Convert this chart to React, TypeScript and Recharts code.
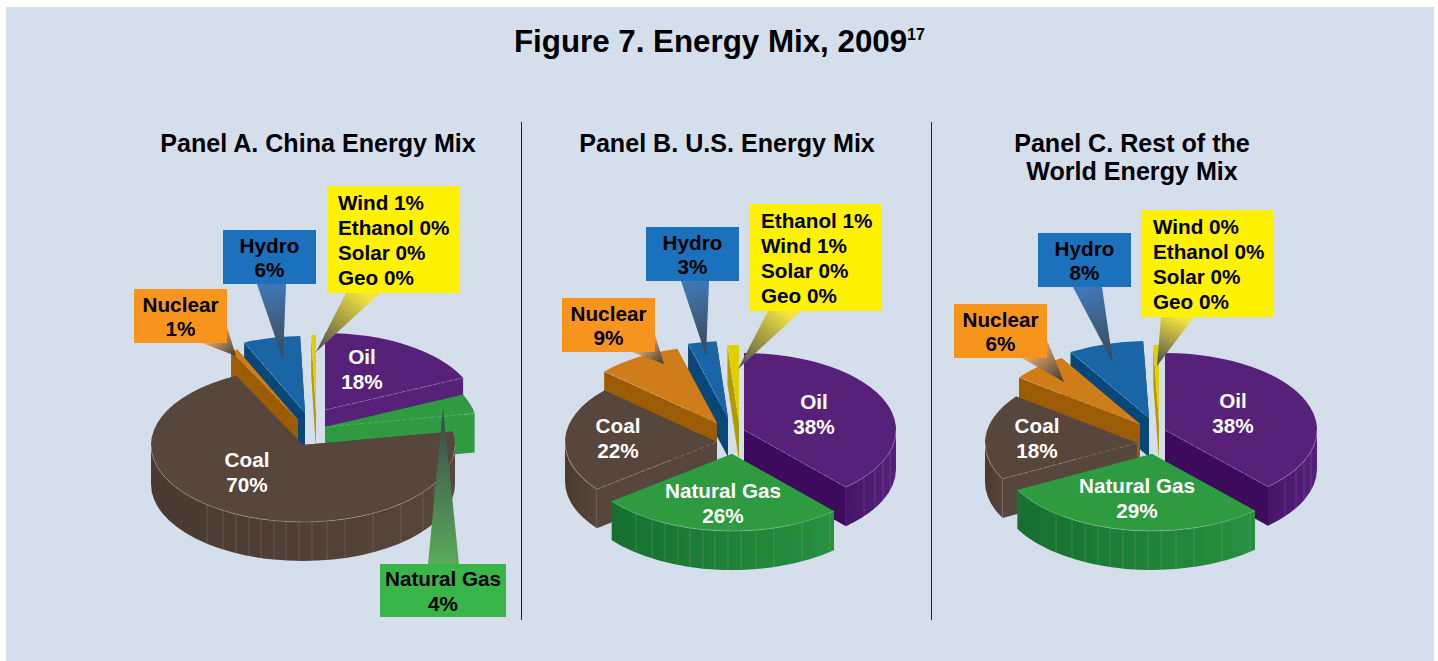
import React from 'react';
import { Pie, PieChart } from 'recharts';

const FONT = '"Liberation Sans", Arial, sans-serif';

// slices clockwise from 12 o'clock
const categories = ['Oil', 'Natural Gas', 'Coal', 'Nuclear', 'Hydro', 'Other'];

// shares as drawn; small ones are estimated from the slice width, the printed labels are rounded
const chinaShares = [18, 4, 70, 0.7, 6, 0.5];
const usShares = [38, 26, 22, 9, 3, 1.2];
const restShares = [38, 29, 18, 6, 8, 0.6];

const chinaPercents = ['18%', '4%', '70%', '1%', '6%'];
const usPercents = ['38%', '26%', '22%', '9%', '3%'];
const restPercents = ['38%', '29%', '18%', '6%', '8%'];

const chinaOther = ['Wind 1%', 'Ethanol 0%', 'Solar 0%', 'Geo 0%'];
const usOther = ['Ethanol 1%', 'Wind 1%', 'Solar 0%', 'Geo 0%'];
const restOther = ['Wind 0%', 'Ethanol 0%', 'Solar 0%', 'Geo 0%'];

const panelTitles = [['Panel A. China Energy Mix'], ['Panel B. U.S. Energy Mix'], ['Panel C. Rest of the', 'World Energy Mix']];

// ---- styles and layout, nothing below this line is data ----

const RX = 152;
const RY = 77;
const DEPTH = 39;
const LINE = 24.8;

// wall seams, px left/right of the slice tip
const seams = [-96, -80, -67, -54, -42, -29, -17, -4, 9, 24, 42, 70, 98, 120, 131, 139, 146];

interface Look {
  top: string;
  face: string;
  wallL: string;
  wallR: string;
  box: string;
  taper: string;
  tip: string;
}

const looks: Record<string, Look> = {
  Oil: { top: '#57217a', face: '#3e0a5c', wallL: '#47156a', wallR: '#55207a', box: '#57217a', taper: '#57217a', tip: '#333' },
  'Natural Gas': { top: '#2e9b40', face: '#2a9039', wallL: '#16702f', wallR: '#279040', box: '#39b54a', taper: '#5aaa5a', tip: '#38464a' },
  Coal: { top: '#56463c', face: '#56463c', wallL: '#493a31', wallR: '#56463c', box: '#56463c', taper: '#56463c', tip: '#333' },
  Nuclear: { top: '#cf7d18', face: '#9c5c05', wallL: '#9c5c05', wallR: '#9c5c05', box: '#f7941e', taper: '#e8a860', tip: '#3a3a3c' },
  Hydro: { top: '#1a65a5', face: '#074878', wallL: '#074878', wallR: '#074878', box: '#1c71bc', taper: '#3f78b8', tip: '#3d4650' },
  Other: { top: '#e0ce00', face: '#b09c00', wallL: '#b09c00', wallR: '#b09c00', box: '#fff200', taper: '#f2e440', tip: '#4a4a4a' },
};

interface Callout {
  box: [number, number, number, number];
  taper: [number, number][];
  tip: [number, number];
  textX?: number;
}

interface PanelLayout {
  cx: number;
  cy: number;
  apex: Record<string, [number, number]>;
  paint: string[];
  labels: Record<string, [number, number]>;
  callouts: Record<string, Callout>;
}

const layouts: PanelLayout[] = [
  {
    cx: 310,
    cy: 425,
    apex: { Oil: [325, 410], 'Natural Gas': [325, 427], Coal: [303, 445], Nuclear: [298, 420], Hydro: [305, 413], Other: [316, 412] },
    paint: ['Oil', 'Other', 'Hydro', 'Nuclear', 'Natural Gas', 'Coal'],
    labels: { Oil: [362, 357], Coal: [247, 460] },
    callouts: {
      Other: { box: [327, 186, 460, 293], taper: [[346, 293], [380, 293]], tip: [316, 352], textX: 338 },
      Hydro: { box: [223, 230, 316, 284], taper: [[257, 284], [286, 284]], tip: [283, 360] },
      Nuclear: { box: [134, 289, 227, 343], taper: [[202, 343], [227, 327]], tip: [236, 356] },
      'Natural Gas': { box: [380, 564, 506, 617], taper: [[428, 564], [459, 564]], tip: [443, 408] },
    },
  },
  {
    cx: 727,
    cy: 435,
    apex: { Oil: [744, 430], 'Natural Gas': [732, 454], Coal: [717, 442], Nuclear: [717, 423], Hydro: [728, 418], Other: [739, 422] },
    paint: ['Other', 'Hydro', 'Nuclear', 'Coal', 'Oil', 'Natural Gas'],
    labels: { Oil: [814, 402], 'Natural Gas': [723, 491], Coal: [618, 426] },
    callouts: {
      Other: { box: [749, 204, 882, 311], taper: [[768, 311], [801, 311]], tip: [738, 369], textX: 761 },
      Hydro: { box: [646, 227, 739, 281], taper: [[681, 281], [709, 281]], tip: [706, 356] },
      Nuclear: { box: [562, 298, 655, 352], taper: [[632, 352], [655, 335]], tip: [664, 364] },
    },
  },
  {
    cx: 1150,
    cy: 435,
    apex: { Oil: [1165, 430], 'Natural Gas': [1152, 454], Coal: [1137, 443], Nuclear: [1140, 424], Hydro: [1149, 418], Other: [1159, 422] },
    paint: ['Other', 'Hydro', 'Nuclear', 'Coal', 'Oil', 'Natural Gas'],
    labels: { Oil: [1233, 401], 'Natural Gas': [1137, 486], Coal: [1037, 426] },
    callouts: {
      Other: { box: [1141, 210, 1274, 317], taper: [[1161, 317], [1194, 317]], tip: [1157, 366], textX: 1153 },
      Hydro: { box: [1038, 233, 1131, 287], taper: [[1073, 287], [1102, 287]], tip: [1113, 363] },
      Nuclear: { box: [954, 304, 1047, 358], taper: [[1022, 358], [1047, 340]], tip: [1064, 382] },
    },
  },
];

const titleCenters = [318, 727, 1132];

function rim(ax: number, ay: number, t: number): [number, number] {
  const r = (t * Math.PI) / 180;
  return [ax + RX * Math.sin(r), ay - RY * Math.cos(r)];
}

// t runs clockwise from 12 o'clock, recharts angles run anticlockwise from 3 o'clock
function sliceAngles(props: any): [number, number] {
  const a = 90 - props.startAngle;
  const b = 90 - props.endAngle;
  return [Math.min(a, b), Math.max(a, b)];
}

function Slice({ sector, layout, id }: { sector: any; layout: PanelLayout; id: string }) {
  const name = sector.payload?.name ?? sector.name;
  const look = looks[name];
  const [t0, t1] = sliceAngles(sector);
  const [ax, ay] = layout.apex[name];
  const p0 = rim(ax, ay, t0);
  const p1 = rim(ax, ay, t1);
  const large = t1 - t0 > 180 ? 1 : 0;
  const top = `M${ax},${ay} L${p0[0]},${p0[1]} A${RX},${RY} 0 ${large} 1 ${p1[0]},${p1[1]} Z`;

  const face = (p: [number, number], t: number) => (
    <path
      d={`M${ax},${ay} L${p[0]},${p[1]} L${p[0]},${p[1] + DEPTH} L${ax},${ay + DEPTH} Z`}
      fill={t < 90 ? look.top : look.face}
    />
  );

  // outer wall only shows on the front half of the ellipse
  const w0 = Math.max(t0, 90);
  const w1 = Math.min(t1, 270);
  const hasWall = w1 > w0;
  const q0 = rim(ax, ay, w0);
  const q1 = rim(ax, ay, w1);

  const ribs = seams.filter((dx) => {
    const x = ax + dx;
    return hasWall && x > Math.min(q0[0], q1[0]) + 2 && x < Math.max(q0[0], q1[0]) - 2 && Math.abs(dx) < RX;
  });

  // cut edges that face the viewer get a thin light seam
  const frontEdges: [number, number][] = [];
  if (t0 > 180) frontEdges.push(p0);
  if (t1 < 180) frontEdges.push(p1);

  return (
    <g>
      <defs>
        <linearGradient id={id} x1="0" y1="0" x2="1" y2="0">
          <stop offset="0%" stopColor={look.wallL} />
          <stop offset="100%" stopColor={look.wallR} />
        </linearGradient>
      </defs>
      {face(p0, t0)}
      {face(p1, t1)}
      {hasWall && (
        <path
          d={`M${q0[0]},${q0[1]} A${RX},${RY} 0 0 1 ${q1[0]},${q1[1]} L${q1[0]},${q1[1] + DEPTH} A${RX},${RY} 0 0 0 ${q0[0]},${q0[1] + DEPTH} Z`}
          fill={`url(#${id})`}
        />
      )}
      {ribs.map((dx) => {
        const x = ax + dx;
        const y = ay + RY * Math.sqrt(1 - (dx * dx) / (RX * RX));
        return <line key={dx} x1={x} y1={y} x2={x} y2={y + DEPTH} stroke="#fff" strokeOpacity={0.17} strokeWidth={0.8} />;
      })}
      <path d={top} fill={look.top} />
      {frontEdges.map((p) => (
        <line key={p[0]} x1={ax} y1={ay} x2={p[0]} y2={p[1]} stroke="#fff" strokeOpacity={0.28} strokeWidth={0.7} strokeDasharray="5 2" />
      ))}
      {hasWall && (
        <path d={`M${q0[0]},${q0[1]} A${RX},${RY} 0 0 1 ${q1[0]},${q1[1]}`} fill="none" stroke="#fff" strokeOpacity={0.3} strokeWidth={0.8} />
      )}
    </g>
  );
}

function CalloutBox({ name, callout, lines, id }: { name: string; callout: Callout; lines: string[]; id: string }) {
  const look = looks[name];
  const [x0, y0, x1, y1] = callout.box;
  const [a, b] = callout.taper;
  const mid = [(a[0] + b[0]) / 2, (a[1] + b[1]) / 2];
  const startY = (y0 + y1) / 2 - ((lines.length - 1) * LINE) / 2 + 8;
  return (
    <g>
      <defs>
        <linearGradient id={id} gradientUnits="userSpaceOnUse" x1={mid[0]} y1={mid[1]} x2={callout.tip[0]} y2={callout.tip[1]}>
          <stop offset="0%" stopColor={look.taper} />
          <stop offset="100%" stopColor={look.tip} />
        </linearGradient>
      </defs>
      <polygon points={`${a[0]},${a[1]} ${b[0]},${b[1]} ${callout.tip[0]},${callout.tip[1]}`} fill={`url(#${id})`} />
      <rect x={x0} y={y0} width={x1 - x0} height={y1 - y0} fill={look.box} />
      {lines.map((line, i) => (
        <text
          key={line}
          x={callout.textX ?? (x0 + x1) / 2}
          y={startY + i * LINE}
          textAnchor={callout.textX ? 'start' : 'middle'}
          fontFamily={FONT}
          fontWeight={700}
          fontSize={20.7}
          fill="#000"
        >
          {line}
        </text>
      ))}
    </g>
  );
}

function Annotation({ sector, layout, percents, other, id }: { sector: any; layout: PanelLayout; percents: string[]; other: string[]; id: string }) {
  const name = sector.payload?.name ?? sector.name;
  const idx = categories.indexOf(name);
  const callout = layout.callouts[name];
  if (callout) {
    const lines = name === 'Other' ? other : [name, percents[idx]];
    return <CalloutBox name={name} callout={callout} lines={lines} id={id} />;
  }
  const pos = layout.labels[name];
  if (!pos) return <g />;
  return (
    <g fontFamily={FONT} fontWeight={700} fontSize={20.7} fill="#fff" textAnchor="middle">
      <text x={pos[0]} y={pos[1] + 7}>{name}</text>
      <text x={pos[0]} y={pos[1] + 32}>{percents[idx]}</text>
    </g>
  );
}

const panels = [
  { shares: chinaShares, percents: chinaPercents, other: chinaOther },
  { shares: usShares, percents: usPercents, other: usOther },
  { shares: restShares, percents: restPercents, other: restOther },
];

export default function App() {
  return (
    <div style={{ position: 'fixed', left: 0, top: 0, width: 1438, height: 661, background: '#fff', overflow: 'hidden', fontFamily: FONT }}>
      <div style={{ position: 'absolute', left: 6, top: 7, width: 1428, height: 654, background: '#d5deeb' }} />
      <div style={{ position: 'absolute', left: 514, top: 24, whiteSpace: 'nowrap', fontWeight: 700, fontSize: 31.3, lineHeight: '36px', color: '#000' }}>
        Figure 7. Energy Mix, 2009<span style={{ fontSize: 16, position: 'relative', top: -12 }}>17</span>
      </div>
      {titleCenters.map((c, i) => (
        <div key={c} style={{ position: 'absolute', left: c - 200, width: 400, top: 129, textAlign: 'center', fontWeight: 700, fontSize: 25.1, lineHeight: '28px', color: '#000' }}>
          {panelTitles[i].map((t) => (
            <div key={t}>{t}</div>
          ))}
        </div>
      ))}
      <div style={{ position: 'absolute', left: 521, top: 122, width: 1, height: 498, background: '#222' }} />
      <div style={{ position: 'absolute', left: 931, top: 122, width: 1, height: 498, background: '#222' }} />
      <div style={{ position: 'absolute', left: 0, top: 0 }}>
        <PieChart width={1438} height={661} margin={{ top: 0, right: 0, bottom: 0, left: 0 }}>
          {panels.flatMap((panel, pi) => {
            const layout = layouts[pi];
            const data = categories.map((name, i) => ({ name, value: panel.shares[i] }));
            const common = {
              data,
              dataKey: 'value',
              nameKey: 'name',
              cx: layout.cx,
              cy: layout.cy,
              outerRadius: RX,
              startAngle: 90,
              endAngle: -270,
              stroke: 'none',
              isAnimationActive: false,
            };
            const layers = layout.paint.map((layer, li) => (
              <Pie
                key={`slice-${pi}-${li}`}
                {...common}
                shape={(props: any) =>
                  (props.payload?.name ?? props.name) === layer ? (
                    <Slice sector={props} layout={layout} id={`wall-${pi}-${li}`} />
                  ) : (
                    <g />
                  )
                }
              />
            ));
            return [
              ...layers,
              <Pie
                key={`notes-${pi}`}
                {...common}
                shape={(props: any) => (
                  <Annotation
                    sector={props}
                    layout={layout}
                    percents={panel.percents}
                    other={panel.other}
                    id={`taper-${pi}-${categories.indexOf(props.payload?.name ?? props.name)}`}
                  />
                )}
              />,
            ];
          })}
        </PieChart>
      </div>
    </div>
  );
}
